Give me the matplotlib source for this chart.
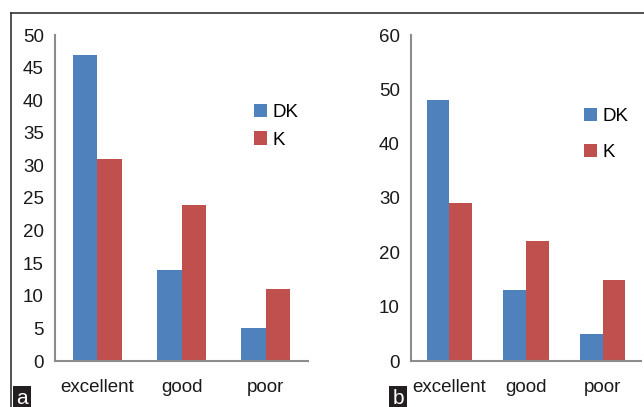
import numpy as np
import matplotlib
matplotlib.use('Agg')
import matplotlib.pyplot as plt
from matplotlib.lines import Line2D

categories = ['excellent', 'good', 'poor']
dk_a = [47, 14, 5]
k_a = [31, 24, 11]
dk_b = [48, 13, 5]
k_b = [29, 22, 15]

BLUE = '#4F81BD'
RED = '#C0504D'
W, H = 644, 407

plt.rcParams['font.family'] = 'Liberation Sans'

fig = plt.figure(figsize=(W / 100, H / 100), dpi=100)


def px_axes(x0, y0, x1, y1):
    # pixel box (top-left origin) -> figure fraction axes
    return fig.add_axes([x0 / W, 1 - y1 / H, (x1 - x0) / W, (y1 - y0) / H])


def draw_panel(ax, dk, k, ymax, step, bar_w, leg_pos, leg_space):
    x = np.arange(len(categories))
    ax.bar(x - bar_w / 2, dk, bar_w, color=BLUE, label='DK')
    ax.bar(x + bar_w / 2, k, bar_w, color=RED, label='K')
    ax.set_xlim(-0.5, len(categories) - 0.5)
    ax.set_ylim(0, ymax)
    ax.set_yticks(np.arange(0, ymax + 1, step))
    ax.set_xticks(x)
    ax.set_xticklabels(categories)
    for s in ['top', 'right']:
        ax.spines[s].set_visible(False)
    for s in ['left', 'bottom']:
        ax.spines[s].set_color('#8c8c8c')
        ax.spines[s].set_linewidth(1.5)
    ax.tick_params(length=0, labelsize=13.5, colors='#1a1a1a')
    ax.tick_params(axis='x', pad=13)
    ax.tick_params(axis='y', pad=8)
    ax.legend(loc='upper left', bbox_to_anchor=(leg_pos[0] / W, 1 - leg_pos[1] / H),
              bbox_transform=fig.transFigure, frameon=False, fontsize=13.5,
              handlelength=0.7, handleheight=0.7, handletextpad=0.3,
              labelspacing=leg_space, borderpad=0, borderaxespad=0)


ax_a = px_axes(55, 35, 308, 361)
draw_panel(ax_a, dk_a, k_a, 50, 5, 0.29, (254, 104), 0.55)

ax_b = px_axes(411, 35, 641, 361)
draw_panel(ax_b, dk_b, k_b, 60, 10, 0.295, (584, 108), 1.0)

# outer frame lines
fig.add_artist(Line2D([11 / W, 1], [1 - 13 / H, 1 - 13 / H], color='#333333', lw=1.2,
                      transform=fig.transFigure))
fig.add_artist(Line2D([11 / W, 11 / W], [1 - 13 / H, 0], color='#333333', lw=1.2,
                      transform=fig.transFigure))

# panel letters
for lbl, xp in [('a', 22), ('b', 398)]:
    fig.text(xp / W, 1 - 399 / H, lbl, color='white', fontsize=15, ha='center', va='center',
             bbox=dict(boxstyle='square,pad=0.15', fc='#231f20', ec='none'))

fig.savefig('out.png', dpi=100)
